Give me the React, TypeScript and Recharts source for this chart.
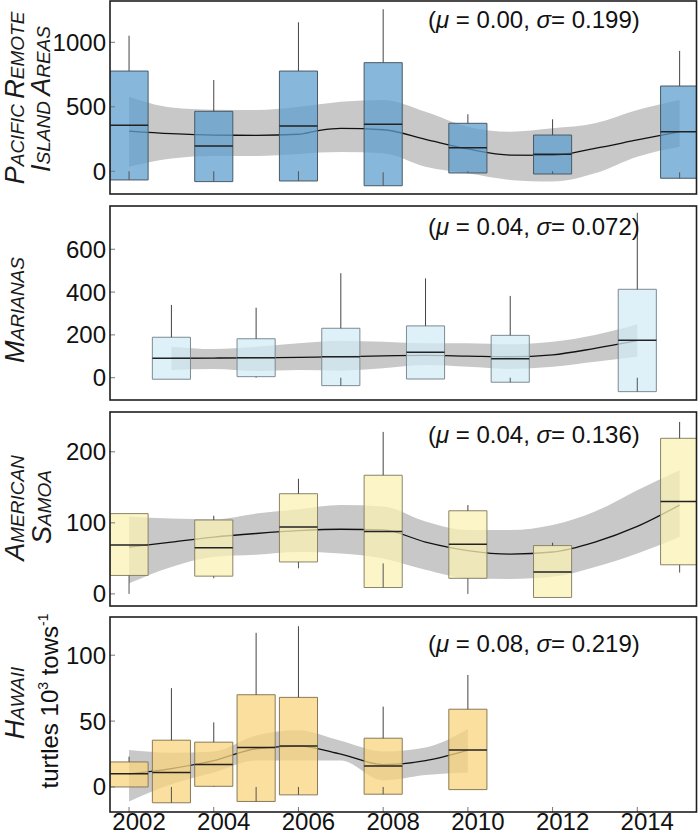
import React from "react";
import {
  ComposedChart,
  Area,
  Line,
  XAxis,
  YAxis,
  ReferenceArea,
  ReferenceLine,
} from "recharts";

const FONT = "'Liberation Sans', Arial, sans-serif";
const xTicks = [2002, 2004, 2006, 2008, 2010, 2012, 2014];
const xDomain = [2001.55, 2015.41];
const halfBox = 0.45;

// Pacific Remote Island Areas
const priaYears = [2002, 2004, 2006, 2008, 2010, 2012, 2015];
const priaQ1 = [-67, -80, -75, -112, -13, -21, -54];
const priaMed = [356, 196, 351, 364, 183, 132, 307];
const priaQ3 = [777, 465, 777, 842, 372, 281, 661];
const priaLo = [0, 0, 0, -8, 0, 0, -8];
const priaHi = [1051, 708, 1155, 1256, 442, 403, 933];
const priaFitYears = [2002, 2003, 2004, 2005, 2006, 2006.5, 2007, 2008, 2009, 2010, 2011, 2012, 2013, 2014, 2015];
const priaFit = [312, 292, 281, 279, 287, 318, 333, 322, 248, 173, 126, 124, 178, 243, 307];
const priaBandLo = [36, 100, 119, 119, 134, 145, 150, 140, 36, -16, -67, -80, -16, 113, 190];
const priaBandHi = [578, 495, 478, 475, 500, 520, 540, 553, 462, 346, 307, 333, 372, 475, 553];

// Marianas
const marYears = [2003, 2005, 2007, 2009, 2011, 2014];
const marQ1 = [-7, 5, -37, -6, -21, -65];
const marMed = [91, 93, 98, 119, 89, 175];
const marQ3 = [189, 182, 231, 242, 198, 413];
const marLo = [-7, 0, 0, -6, 0, 0];
const marHi = [340, 327, 488, 464, 382, 770];
const marFitYears = [2003, 2004, 2005, 2006, 2007, 2008, 2009, 2010, 2011, 2012, 2013, 2014];
const marFit = [91, 92, 93, 95, 98, 102, 104, 101, 98, 107, 137, 173];
const marBandLo = [36, 41, 31, 36, 33, 44, 59, 51, 41, 51, 75, 98];
const marBandHi = [145, 134, 145, 161, 173, 168, 161, 161, 156, 168, 200, 250];

// American Samoa
const samYears = [2002, 2004, 2006, 2008, 2010, 2012, 2015];
const samQ1 = [26, 25, 45, 9, 22, -5, 41];
const samMed = [69, 65, 94, 88, 70, 31, 130];
const samQ3 = [113, 104, 141, 167, 117, 68, 219];
const samLo = [0, 22, 36, 43, 0, -5, 30];
const samHi = [113, 110, 162, 228, 125, 72, 242];
const samFitYears = [2002, 2003, 2004, 2005, 2006, 2007, 2008, 2009, 2010, 2011, 2012, 2013, 2014, 2015];
const samFit = [66, 73, 80, 85, 89, 91, 90, 73, 61, 56, 59, 73, 95, 125];
const samBandLo = [15, 38, 52, 55, 59, 57, 50, 34, 22, 21, 24, 38, 57, 80];
const samBandHi = [109, 106, 105, 113, 119, 125, 123, 102, 90, 90, 97, 116, 146, 174];

// Hawaii
const hawYears = [2002, 2003, 2004, 2005, 2006, 2008, 2010];
const hawQ1 = [0, -12, 0.5, -11, -6, -5.5, -2];
const hawMed = [10, 11, 17, 30, 31, 16, 28];
const hawQ3 = [19, 35.5, 34, 70, 68, 37, 59];
const hawLo = [0, 0, 0, 0, 0, 0, -2];
const hawHi = [23, 75, 49, 117, 122, 61, 85];
const hawFitYears = [2002, 2003, 2004, 2005, 2006, 2007, 2008, 2009, 2010];
const hawFit = [10, 14, 20, 29, 31, 25, 17, 20, 28];
const hawBandLo = [-11, 2, 11, 20, 20, 20, 5, 9, 11];
const hawBandHi = [28, 26, 27, 39, 43, 35, 27, 30, 44];

const panels = [
  {
    top: 1, h: 193, yDomain: [-176, 1320], yTicks: [0, 500, 1000],
    years: priaYears, q1: priaQ1, med: priaMed, q3: priaQ3, lo: priaLo, hi: priaHi,
    fitYears: priaFitYears, fit: priaFit, bandLo: priaBandLo, bandHi: priaBandHi,
    fill: "#5f9fcd", edge: "#4a5a66", stats: ["0.00", "0.199"], statY: 28,
  },
  {
    top: 206, h: 194, yDomain: [-104, 802], yTicks: [0, 200, 400, 600],
    years: marYears, q1: marQ1, med: marMed, q3: marQ3, lo: marLo, hi: marHi,
    fitYears: marFitYears, fit: marFit, bandLo: marBandLo, bandHi: marBandHi,
    fill: "#d3ebf6", edge: "#7d8a92", stats: ["0.04", "0.072"], statY: 235,
  },
  {
    top: 412, h: 194, yDomain: [-17, 256], yTicks: [0, 100, 200],
    years: samYears, q1: samQ1, med: samMed, q3: samQ3, lo: samLo, hi: samHi,
    fitYears: samFitYears, fit: samFit, bandLo: samBandLo, bandHi: samBandHi,
    fill: "#fbf2b6", edge: "#8a8468", stats: ["0.04", "0.136"], statY: 443,
  },
  {
    top: 617, h: 195, yDomain: [-19, 129], yTicks: [0, 50, 100],
    years: hawYears, q1: hawQ1, med: hawMed, q3: hawQ3, lo: hawLo, hi: hawHi,
    fitYears: hawFitYears, fit: hawFit, bandLo: hawBandLo, bandHi: hawBandHi,
    fill: "#f9d47e", edge: "#8a7a55", stats: ["0.08", "0.219"], statY: 652,
  },
];

function YearTick(props: any) {
  const { x, y, payload } = props;
  return (
    <text x={x + 10} y={y} dy="0.71em" textAnchor="middle" fontSize={24} fontFamily={FONT} fill="#111">
      {payload.value}
    </text>
  );
}

function Panel({ p, showYears }: { p: any; showYears: boolean }) {
  const table = p.fitYears.map((year: number, i: number) => ({
    year,
    fit: p.fit[i],
    band: [p.bandLo[i], p.bandHi[i]],
  }));
  const axisH = showYears ? 24 : 0;

  return (
    <div style={{ position: "absolute", left: 0, top: p.top }}>
      <ComposedChart
        width={698}
        height={p.h + axisH}
        data={table}
        margin={{ top: 0, right: 1, bottom: 0, left: 0 }}
      >
        <XAxis
          type="number"
          dataKey="year"
          domain={xDomain}
          ticks={xTicks}
          interval={0}
          allowDataOverflow
          axisLine={false}
          tickSize={-5}
          tickMargin={6}
          tickLine={{ stroke: "#777" }}
          tick={showYears ? <YearTick /> : false}
          height={axisH}
        />
        <YAxis
          type="number"
          domain={p.yDomain}
          ticks={p.yTicks}
          interval={0}
          allowDataOverflow
          width={110}
          axisLine={false}
          tickSize={-5}
          tickMargin={9}
          tickLine={{ stroke: "#777" }}
          tick={{ fontSize: 24, fill: "#111", fontFamily: FONT }}
        />
        <Area
          type="monotone"
          dataKey="band"
          stroke="none"
          fill="#c8c8c8"
          fillOpacity={1}
          isAnimationActive={false}
          zIndex={100}
        />
        <Line
          type="monotone"
          dataKey="fit"
          stroke="#111"
          strokeWidth={1.3}
          dot={false}
          isAnimationActive={false}
          zIndex={150}
        />
        {p.years.map((yr: number, i: number) => (
          <ReferenceArea
            key={"box" + yr}
            x1={yr - halfBox}
            x2={yr + halfBox}
            y1={p.q1[i]}
            y2={p.q3[i]}
            fill={p.fill}
            fillOpacity={0.75}
            stroke={p.edge}
            strokeWidth={1}
            strokeOpacity={1}
            ifOverflow="hidden"
            zIndex={200}
          />
        ))}
        {p.years.map((yr: number, i: number) => (
          <ReferenceLine
            key={"hi" + yr}
            segment={[{ x: yr, y: p.q3[i] }, { x: yr, y: p.hi[i] }]}
            stroke="#444"
            strokeWidth={1}
            ifOverflow="hidden"
            zIndex={250}
          />
        ))}
        {p.years.map((yr: number, i: number) => (
          <ReferenceLine
            key={"lo" + yr}
            segment={[{ x: yr, y: p.q1[i] }, { x: yr, y: p.lo[i] }]}
            stroke="#555"
            strokeWidth={1}
            ifOverflow="hidden"
            zIndex={250}
          />
        ))}
        {p.years.map((yr: number, i: number) => (
          <ReferenceLine
            key={"med" + yr}
            segment={[{ x: yr - halfBox, y: p.med[i] }, { x: yr + halfBox, y: p.med[i] }]}
            stroke="#222"
            strokeWidth={1.5}
            ifOverflow="hidden"
            zIndex={250}
          />
        ))}
      </ComposedChart>
    </div>
  );
}

function smallCaps(text: string) {
  return text.split(" ").map((word, i) => (
    <React.Fragment key={i}>
      {i > 0 ? <tspan fontSize={19}>{" "}</tspan> : null}
      <tspan fontSize={27}>{word[0]}</tspan>
      <tspan fontSize={19}>{word.slice(1).toUpperCase()}</tspan>
    </React.Fragment>
  ));
}

function SideLabel({ x, y, text }: { x: number; y: number; text: string }) {
  return (
    <text
      transform={`translate(${x},${y}) rotate(-90)`}
      textAnchor="middle"
      fontStyle="italic"
      fontFamily={FONT}
      fill="#1a1a1a"
    >
      {smallCaps(text)}
    </text>
  );
}

export default function App() {
  return (
    <div style={{ position: "relative", width: 698, height: 836, background: "#fff", fontFamily: FONT }}>
      <style>{"body{margin:0}"}</style>
      {panels.map((p, i) => (
        <Panel key={i} p={p} showYears={i === panels.length - 1} />
      ))}
      <svg
        width={698}
        height={836}
        style={{ position: "absolute", left: 0, top: 0, pointerEvents: "none" }}
      >
        {panels.map((p, i) => (
          <rect key={"f" + i} x={110} y={p.top} width={586.5} height={p.h} fill="none" stroke="#1e1e1e" strokeWidth={1.6} />
        ))}
        {panels.map((p, i) => (
          <text key={"s" + i} x={428} y={p.statY} fontSize={24} fontFamily={FONT} fill="#111">
            {"("}
            <tspan fontStyle="italic">μ</tspan>
            {" = " + p.stats[0] + ", "}
            <tspan fontStyle="italic">σ</tspan>
            {"= " + p.stats[1] + ")"}
          </text>
        ))}
        <SideLabel x={24} y={98} text="Pacific Remote" />
        <SideLabel x={50} y={99} text="Island Areas" />
        <SideLabel x={24} y={310} text="Marianas" />
        <SideLabel x={24} y={508} text="American" />
        <SideLabel x={51} y={507} text="Samoa" />
        <SideLabel x={24} y={703} text="Hawaii" />
        <text
          transform="translate(58,701) rotate(-90)"
          textAnchor="middle"
          fontSize={24}
          fontFamily={FONT}
          fill="#111"
        >
          {"turtles 10"}
          <tspan fontSize={14} dy={-10}>3</tspan>
          <tspan dy={10}>{" tows"}</tspan>
          <tspan fontSize={14} dy={-10}>-1</tspan>
        </text>
      </svg>
    </div>
  );
}
